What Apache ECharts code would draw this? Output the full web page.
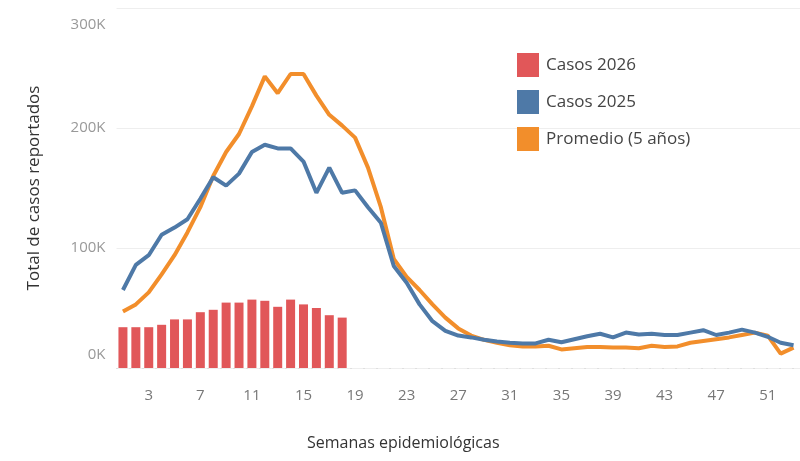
<!DOCTYPE html>
<html>
<head>
<meta charset="utf-8">
<script src="https://cdn.jsdelivr.net/npm/echarts@6/dist/echarts.min.js"></script>
<style>html,body{margin:0;padding:0;background:#fff}#c{width:800px;height:461px}</style>
</head>
<body>
<div id="c"></div>
<script>
const weeks = Array.from({length: 53}, (_, i) => String(i + 1));
const casos2026 = [34, 34, 34, 36, 40.5, 40.5, 46.5, 48.5, 54.5, 54.5, 57, 56, 51, 57, 53, 50, 44, 42];
const casos2025 = [65, 86, 94, 111, 117, 124, 141, 159, 152, 162, 180, 186, 183, 183, 172, 146, 167, 146, 148, 134, 121, 85, 71, 53, 39, 31, 27, 25.5, 23.5, 22, 21, 20.5, 20.5, 23.5, 21.5, 24, 26.5, 28.5, 25.5, 29.5, 28, 28.5, 27.5, 27.5, 29.5, 31.5, 27.5, 29.5, 32, 29.5, 26, 21, 19];
const promedio = [47, 53, 63, 78, 94, 113, 134, 160, 180, 195, 218, 243, 229, 245, 245, 227, 211, 202, 192, 167, 134, 91, 76, 65, 53, 42, 33, 27, 23.5, 21, 19, 18, 18, 18.5, 15.5, 16.5, 17.5, 17.5, 17, 17, 16.5, 18.5, 17.5, 18, 21, 22.5, 24, 25.5, 27.5, 29.5, 27, 12, 17];
const yTicks = [0, 100000, 200000, 300000];
const K = 1000;

const chart = echarts.init(document.getElementById('c'), null, {renderer: 'canvas'});
const font = '"Open Sans", "Noto Sans", sans-serif';
chart.setOption({
  animation: false,
  textStyle: {fontFamily: font},
  grid: {left: 116.5, right: -11, top: 8, bottom: 93, containLabel: false},
  legend: {
    orient: 'vertical', left: 512, top: 48,
    itemWidth: 22, itemHeight: 24, itemGap: 13,
    icon: 'rect',
    textStyle: {fontSize: 17, color: '#444', fontFamily: font, padding: [0, 0, 0, 2]},
    data: ['Casos 2026', 'Casos 2025', 'Promedio (5 años)']
  },
  xAxis: {
    type: 'category', data: weeks, boundaryGap: true,
    axisLine: {show: true, lineStyle: {color: '#ddd', type: [1, 12]}},
    axisTick: {show: false},
    axisLabel: {
      color: '#777', fontSize: 15, margin: 20,
      interval: (i) => (i - 2) % 4 === 0 && i >= 2
    },
    name: 'Semanas epidemiológicas', nameLocation: 'middle', nameGap: 67,
    nameTextStyle: {color: '#333', fontSize: 16, padding: [0, 110, 0, 0]}
  },
  yAxis: {
    type: 'value', min: 0, max: 300000, interval: 100000,
    axisLabel: {
      color: '#999', fontSize: 15, margin: 11,
      formatter: v => {
        const s = (v / 1000) + 'K';
        if (v === 300000) return '{t|' + s + '}';
        if (v === 0) return '{b|' + s + '}';
        return s;
      },
      rich: {
        t: {color: '#999', fontSize: 15, padding: [34, 0, 0, 0]},
        b: {color: '#999', fontSize: 15, padding: [0, 0, 26, 0]}
      }
    },
    splitLine: {lineStyle: {color: '#eee', width: 1}},
    axisLine: {show: false}, axisTick: {show: false},
    name: 'Total de casos reportados', nameLocation: 'middle', nameGap: 74,
    nameTextStyle: {color: '#333', fontSize: 17}
  },
  series: [
    {name: 'Casos 2026', type: 'bar', data: casos2026.map(v => v * K), barWidth: 9,
     itemStyle: {color: '#E15759'}, z: 1},
    {name: 'Casos 2025', type: 'line', data: casos2025.map(v => v * K), showSymbol: false, symbol: 'none',
     lineStyle: {color: '#4E79A7', width: 4}, itemStyle: {color: '#4E79A7'}, z: 3},
    {name: 'Promedio (5 años)', type: 'line', data: promedio.map(v => v * K), showSymbol: false, symbol: 'none',
     lineStyle: {color: '#F28E2B', width: 4}, itemStyle: {color: '#F28E2B'}, z: 2}
  ]
});
</script>
</body>
</html>
